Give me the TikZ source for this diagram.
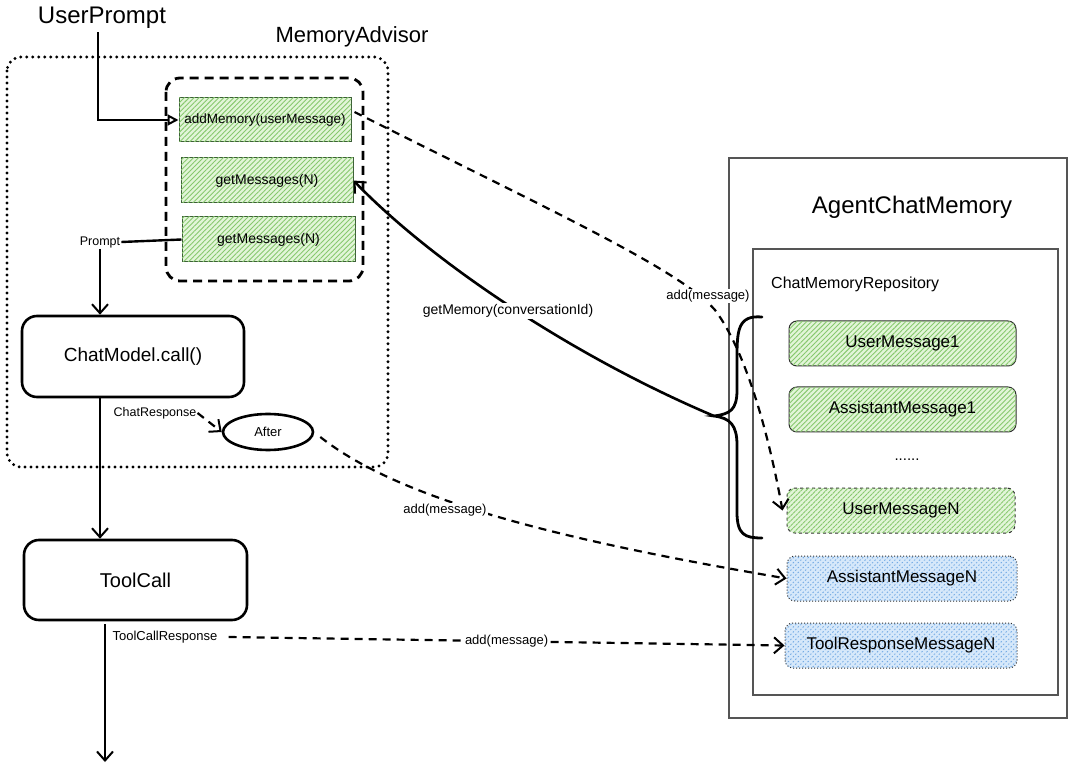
\documentclass[tikz,border=0pt]{standalone}
\usepackage{fontspec}
\setmainfont{Liberation Sans}
\usetikzlibrary{arrows.meta,patterns.meta,shapes.geometric,calc}
\definecolor{gfill}{RGB}{226,245,216}
\definecolor{ghatch}{RGB}{135,200,110}
\definecolor{gbord}{RGB}{60,95,55}
\definecolor{bfill}{RGB}{214,232,250}
\definecolor{bhatch}{RGB}{115,170,228}
\definecolor{mbord}{RGB}{45,45,45}
\definecolor{frame}{RGB}{85,85,85}
\begin{document}
\begin{tikzpicture}[x=1pt,y=-1pt,
  fs/.style={font=\fontsize{#1}{#1}\selectfont},
  greenhatch/.style={fill=gfill,postaction={pattern={Lines[angle=45,distance=3.5pt,line width=0.9pt]},pattern color=ghatch}},
  bluehatch/.style={fill=bfill,postaction={pattern={Lines[angle=45,distance=3.5pt,line width=0.9pt]},pattern color=bhatch}},
  funcbox/.style={draw=gbord,line width=1pt,greenhatch,minimum height=44pt,inner sep=0pt,fs=14},
  msgbox/.style={draw=mbord,line width=1pt,rounded corners=8pt,minimum height=45pt,inner sep=0pt,fs=17},
  procbox/.style={draw,line width=2.6pt,rounded corners=15pt,inner sep=0pt,minimum height=80pt,fs=19},
  lbl/.style={inner sep=1pt,fs=13},
  barb/.style={-{Straight Barb[length=9pt,width=16pt,line width=2pt]}},
  solidarrow/.style={line width=2.4pt,barb},
  dasharrow/.style={line width=2.2pt,dash pattern=on 8pt off 6pt,barb},
  dotframe/.style={line width=3.2pt,line cap=round,dash pattern=on 0pt off 6pt,rounded corners=14pt},
  dashframe/.style={line width=2.8pt,dash pattern=on 9pt off 6pt,rounded corners=14pt},
  thinframe/.style={draw=frame,line width=1.4pt}
]
\useasboundingbox (0,0) rectangle (1080,767);

% frames
\draw[dotframe] (7,57) rectangle (388,467);
\draw[dashframe] (166,78) rectangle (363,281);
\node[fs=22] (madv) at (352,37) {MemoryAdvisor};
\node[fs=24] (up) at (102,18) {UserPrompt};

% function boxes
\node[funcbox,minimum width=172pt,fs=13.5] (addmem) at (265,120) {addMemory(userMessage)};
\node[funcbox,minimum width=172pt,minimum height=45pt] (gm1) at (267,180.5) {getMessages(N)};
\node[funcbox,minimum width=173pt,minimum height=45pt] (gm2) at (268.5,239.5) {getMessages(N)};

% process boxes
\node[lbl,fs=12.5] (prompt) at (100,242) {Prompt};
\node[procbox,minimum width=222pt,minimum height=81pt] (chat) at (133,356.5) {ChatModel.call()};
\node[procbox,minimum width=223pt,fs=20] (tool) at (135.5,580) {ToolCall};
\node[draw,ellipse,line width=2.6pt,minimum width=90pt,minimum height=36pt,inner sep=0pt,fs=13] (after) at (268,432) {After};
\node[lbl,fs=12.5] (cresp) at (155,413) {ChatResponse};
\node[lbl] (tcresp) at (165,637) {ToolCallResponse};
\coordinate (flowend) at (105,762);

% memory
\draw[thinframe] (729,158) rectangle (1067,718);
\draw[thinframe] (753,249) rectangle (1058,695);
\node[fs=24] (acm) at (912,207) {AgentChatMemory};
\node[fs=16,anchor=west,inner sep=0pt] (cmr) at (771,284) {ChatMemoryRepository};
\node[msgbox,greenhatch,minimum width=227pt] (um1) at (902.5,343.5) {UserMessage1};
\node[msgbox,greenhatch,minimum width=227pt] (am1) at (902.5,409.5) {AssistantMessage1};
\node[fs=15] (dots) at (907,460) {......};
\node[msgbox,greenhatch,dashed,minimum width=228pt] (umN) at (901,510.5) {UserMessageN};
\node[msgbox,bluehatch,dotted,minimum width=230pt] (amN) at (902,578.5) {AssistantMessageN};
\node[msgbox,bluehatch,dotted,minimum width=232pt] (trN) at (901,645.5) {ToolResponseMessageN};

% brace
\coordinate (bracetip) at (714,416);
\draw[line width=2.8pt,line cap=round] (762,317) .. controls (738,315) and (737,330) .. (737,358) -- (737,390) .. controls (737,410) and (730,414) .. (bracetip) .. controls (730,418) and (737,425) .. (737,445) -- (737,512) .. controls (737,535) and (745,538) .. (762,538);

% connectors
\draw[line width=2.4pt,-{Triangle[open,length=11pt,width=11pt,line width=2pt]}] ($(up.south)+(-4,0)$) |- (addmem.west);
\draw[line width=2.4pt] (prompt.east) -- (gm2.west);
\draw[solidarrow] (prompt.south) -- (prompt.south |- chat.north);
\draw[solidarrow] (prompt.south |- chat.south) -- (prompt.south |- tool.north);
\draw[solidarrow] ($(flowend |- tool.south)+(0,3)$) -- (flowend);
\draw[dasharrow] (cresp.east) -- (after.west);
\draw[dasharrow] (tcresp.east) ++(10,0) -- node[lbl,fill=white] (am3) {add(message)} (trN.west);
\draw[dasharrow] (after.east) ++(6,5) .. controls (400,500) and (560,540) .. (amN.west);
\node[lbl,fill=white] (am2) at (445,510) {add(message)};
\draw[dasharrow] (addmem.east) ++(3,-8) .. controls (560,215) and (680,270) .. (715,310) .. controls (745,350) and (768,430) .. ($(umN.west)+(-4,0)$);
\node[lbl,fill=white] (am1l) at (708,296) {add(message)};
\draw[line width=2.6pt,barb] (bracetip) .. controls (570,355) and (430,260) .. (gm1.east);
\node[lbl,fill=white,fs=14] (gmem) at (508,311) {getMemory(conversationId)};
\end{tikzpicture}
\end{document}
